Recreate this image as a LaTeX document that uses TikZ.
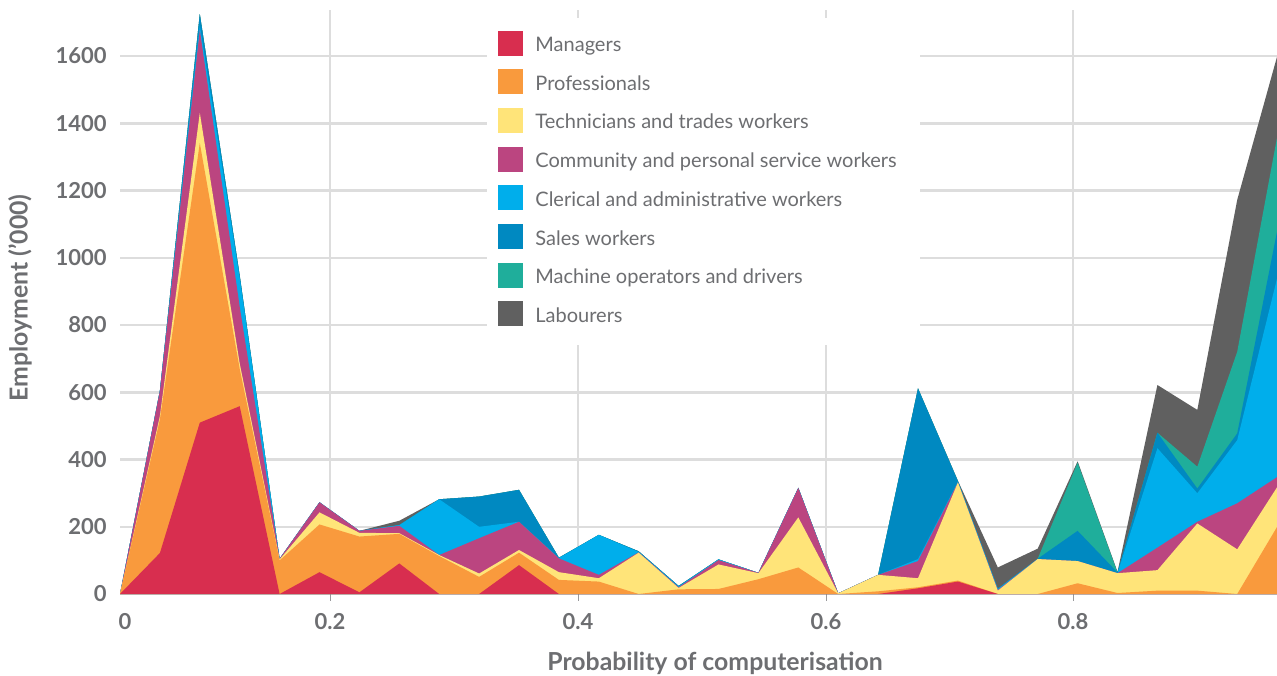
\documentclass[tikz,border=0pt]{standalone}
\usepackage{fontspec}
\setmainfont{Lato}
\usetikzlibrary{positioning}

\definecolor{mgrred}{HTML}{D82E4F}
\definecolor{profor}{HTML}{F99A3D}
\definecolor{techyel}{HTML}{FFE479}
\definecolor{commpur}{HTML}{BB4580}
\definecolor{clerblu}{HTML}{00AEEB}
\definecolor{salesblu}{HTML}{0089C1}
\definecolor{machtea}{HTML}{1FAE9B}
\definecolor{labgry}{HTML}{606060}
\definecolor{axisgrey}{HTML}{6D6E71}
\definecolor{gridgrey}{HTML}{DDDDDD}

\tikzset{
  gridline/.style={draw=gridgrey, line width=1.25pt},
  ticklab/.style={text=axisgrey, font=\fontsize{11}{13}\selectfont\bfseries, inner sep=0pt},
  legbox/.style={minimum size=12.5pt, inner sep=0pt},
  legtext/.style={text=axisgrey, font=\fontsize{10}{12}\selectfont, inner sep=0pt},
  axtitle/.style={text=axisgrey, font=\fontsize{12.4}{14}\selectfont\bfseries, inner sep=0pt}
}

% one stacked layer, cumulative tops
\newcommand{\stacklayer}[2]{\fill[#1] (0,0) \foreach \v [count=\i from 0] in {#2} { -- (\i,\v) } -- (29,0) -- cycle;}

\begin{document}
\begin{tikzpicture}[x=0.5pt, y=-0.5pt]
    \useasboundingbox (0,0) rectangle (1277,675);

    % grid
    \foreach \v in {200,400,...,1600}
        \draw[gridline] (120,{594-0.33625*\v}) -- (1277,{594-0.33625*\v});
    \foreach \gx in {330,578,826,1073} {
        \draw[gridline] (\gx,10) -- (\gx,594);
        \draw[draw=axisgrey!70, line width=0.5pt] (\gx,594) -- (\gx,601);
    }

    % legend panel
    \fill[white] (487,18) rectangle (920,345);

    % stacked areas, top layer first
    \begin{scope}[shift={(120,594)}, x=19.95pt, y=0.168pt]
        \stacklayer{labgry}{0,605,1726,948,105,273,188,218,282,290,310,108,176,127,24,103,63,316,2,57,612,337,79,135,395,66,622,548,1173,1600}
        \stacklayer{machtea}{0,605,1726,948,105,273,188,205,282,290,310,108,176,127,24,103,63,316,2,57,612,336,16,105,391,64,480,379,721,1360}
        \stacklayer{salesblu}{0,605,1726,948,105,273,188,205,282,290,310,108,176,127,24,103,63,316,2,57,612,336,16,105,188,64,480,314,478,1080}
        \stacklayer{clerblu}{0,605,1693,940,105,273,188,205,282,200,215,107,176,125,22,103,63,316,2,57,104,334,15,104,98,62,434,300,458,940}
        \stacklayer{commpur}{0,605,1679,855,105,273,188,203,116,166,215,106,57,124,20,101,63,316,2,57,98,332,12,104,98,62,138,215,270,348}
        \stacklayer{techyel}{0,530,1432,686,103,243,182,181,116,61,131,65,47,123,18,88,62,228,2,57,47,332,10,104,98,62,71,210,133,318}
        \stacklayer{profor}{0,520,1342,670,100,207,171,179,113,51,123,42,37,0,14,15,44,79,0,8,20,40,0,0,32,3,10,10,0,200}
        \stacklayer{mgrred}{0,122,510,559,0,65,5,91,0,0,86,0,0,0,0,0,0,0,0,0,17,37,0,0,0,0,0,0,0,0}
    \end{scope}

    % axes labels
    \foreach \v in {0,200,...,1600}
        \node[ticklab, anchor=east] (ylab\v) at (107,{594-0.33625*\v}) {\v};
    \node[ticklab] (xlab0) at (125,622) {0};
    \node[ticklab] (xlab2) at (330,622) {0.2};
    \node[ticklab] (xlab4) at (578,622) {0.4};
    \node[ticklab] (xlab6) at (826,622) {0.6};
    \node[ticklab] (xlab8) at (1073,622) {0.8};
    \node[axtitle] (xtitle) at (715,663) {Probability of computerisation};
    \node[axtitle, rotate=90] (ytitle) at (20,298) {Employment ('000)};

    % legend
    \foreach \col/\txt [count=\k] in {mgrred/Managers, profor/Professionals, techyel/Technicians and trades workers, commpur/Community and personal service workers, clerblu/Clerical and administrative workers, salesblu/Sales workers, machtea/Machine operators and drivers, labgry/Labourers} {
        \node[legbox, fill=\col] (key\k) at (510.5,{4.3+38.7*\k}) {};
        \node[legtext, anchor=base west] (keytext\k) at (535,{12.8+38.7*\k}) {\txt};
    }
\end{tikzpicture}
\end{document}
